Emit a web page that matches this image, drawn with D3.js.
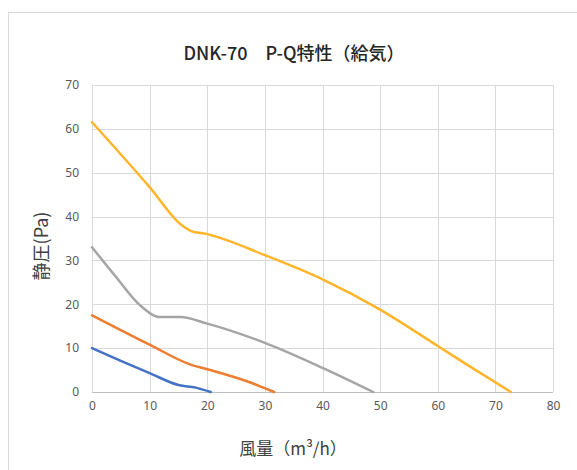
<!DOCTYPE html>
<html>
<head>
<meta charset="utf-8">
<script src="https://cdn.jsdelivr.net/npm/d3@7"></script>
<style>
  html, body { margin: 0; padding: 0; background: #fff; }
  svg { display: block; font-family: "Noto Sans CJK JP", "Noto Sans", sans-serif; }
</style>
</head>
<body>
<svg id="chart"></svg>
<script>
// data (風量 m3/h, 静圧 Pa)
const blueSeries = [[0, 10], [5, 7.1], [10, 4.3], [15, 1.6], [18, 1.0], [20.6, 0]]
const orangeSeries = [[0, 17.5], [10, 10.8], [17, 6.3], [20, 5.2], [27, 2.4], [31.6, 0]]
const greySeries = [[0, 33], [4, 26.5], [8.3, 19.8], [11.8, 17.1], [15.3, 17.1], [20, 15.6], [30, 11.2], [40, 5.5], [48.8, 0]]
const yellowSeries = [[0, 61.5], [10, 46.7], [15.6, 38], [17.2, 36.7], [20, 36], [30, 31.2], [40, 25.7], [50, 18.8], [60, 10.5], [65, 6.3], [72.7, 0]]
const xTicks = [0, 10, 20, 30, 40, 50, 60, 70, 80]
const yTicks = [0, 10, 20, 30, 40, 50, 60, 70]
const colors = ['#4472C4', '#ED7D31', '#A5A5A5', '#FFB52A']

const titleText = 'DNK-70\u3000P-Q特性（給気）'
const xTitle = '風量（m³/h）'
const yTitle = '静圧(Pa)'

const w = 577, h = 470
const pLeft = 92, pRight = 553, pTop = 85, pBottom = 392

const svg = d3.select('#chart').attr('width', w).attr('height', h)

// chart frame (runs off the right and bottom edge)
svg.append('rect')
  .attr('x', 8.5).attr('y', 12.5)
  .attr('width', 600).attr('height', 500)
  .attr('fill', '#fff')
  .attr('stroke', '#D9D9D9')
  .attr('stroke-width', 1)

const scX = d3.scaleLinear().domain([0, 80]).range([pLeft, pRight])
const scY = d3.scaleLinear().domain([0, 70]).range([pBottom, pTop])

// grid
const grid = svg.append('g')
grid.selectAll('line.v')
  .data(xTicks).enter()
  .append('line')
  .attr('x1', d => Math.round(scX(d)) + 0.5).attr('x2', d => Math.round(scX(d)) + 0.5)
  .attr('y1', pTop).attr('y2', pBottom)
  .attr('stroke', '#D9D9D9')
grid.selectAll('line.h')
  .data(yTicks).enter()
  .append('line')
  .attr('y1', d => Math.round(scY(d)) + 0.5).attr('y2', d => Math.round(scY(d)) + 0.5)
  .attr('x1', pLeft).attr('x2', pRight)
  .attr('stroke', d => d === 0 ? '#BFBFBF' : '#D9D9D9')

// tick labels via d3 axes, lines hidden
const xAxis = svg.append('g')
  .attr('transform', `translate(0, ${pBottom + 9})`)
  .call(d3.axisBottom(scX).tickValues(xTicks).tickSize(0).tickPadding(0))
const yAxis = svg.append('g')
  .attr('transform', `translate(${pLeft - 13}, 0)`)
  .call(d3.axisLeft(scY).tickValues(yTicks).tickSize(0).tickPadding(0))
;[xAxis, yAxis].forEach(a => {
  a.select('.domain').remove()
  a.selectAll('text')
    .attr('fill', '#595959')
    .style('font-size', '12px')
    .style('font-family', '"Noto Sans", sans-serif')
})

// lines
const line = d3.line()
  .x(d => scX(d[0]))
  .y(d => scY(d[1]))
  .curve(d3.curveMonotoneX)

svg.append('g')
  .selectAll('path')
  .data([blueSeries, orangeSeries, greySeries, yellowSeries])
  .enter()
  .append('path')
  .attr('d', line)
  .attr('fill', 'none')
  .attr('stroke', (d, i) => colors[i])
  .attr('stroke-width', 2.5)
  .attr('stroke-linecap', 'round')

// titles
svg.append('text')
  .attr('x', 294).attr('y', 60)
  .attr('text-anchor', 'middle')
  .attr('fill', '#262626')
  .style('font-size', '18px')
  .style('font-weight', 500)
  .text(titleText)

svg.append('text')
  .attr('x', 293).attr('y', 455)
  .attr('text-anchor', 'middle')
  .attr('fill', '#404040')
  .style('font-size', '17px')
  .text(xTitle)

svg.append('text')
  .attr('transform', 'translate(48, 246) rotate(-90)')
  .attr('text-anchor', 'middle')
  .attr('fill', '#404040')
  .style('font-size', '18px')
  .text(yTitle)
</script>
</body>
</html>
